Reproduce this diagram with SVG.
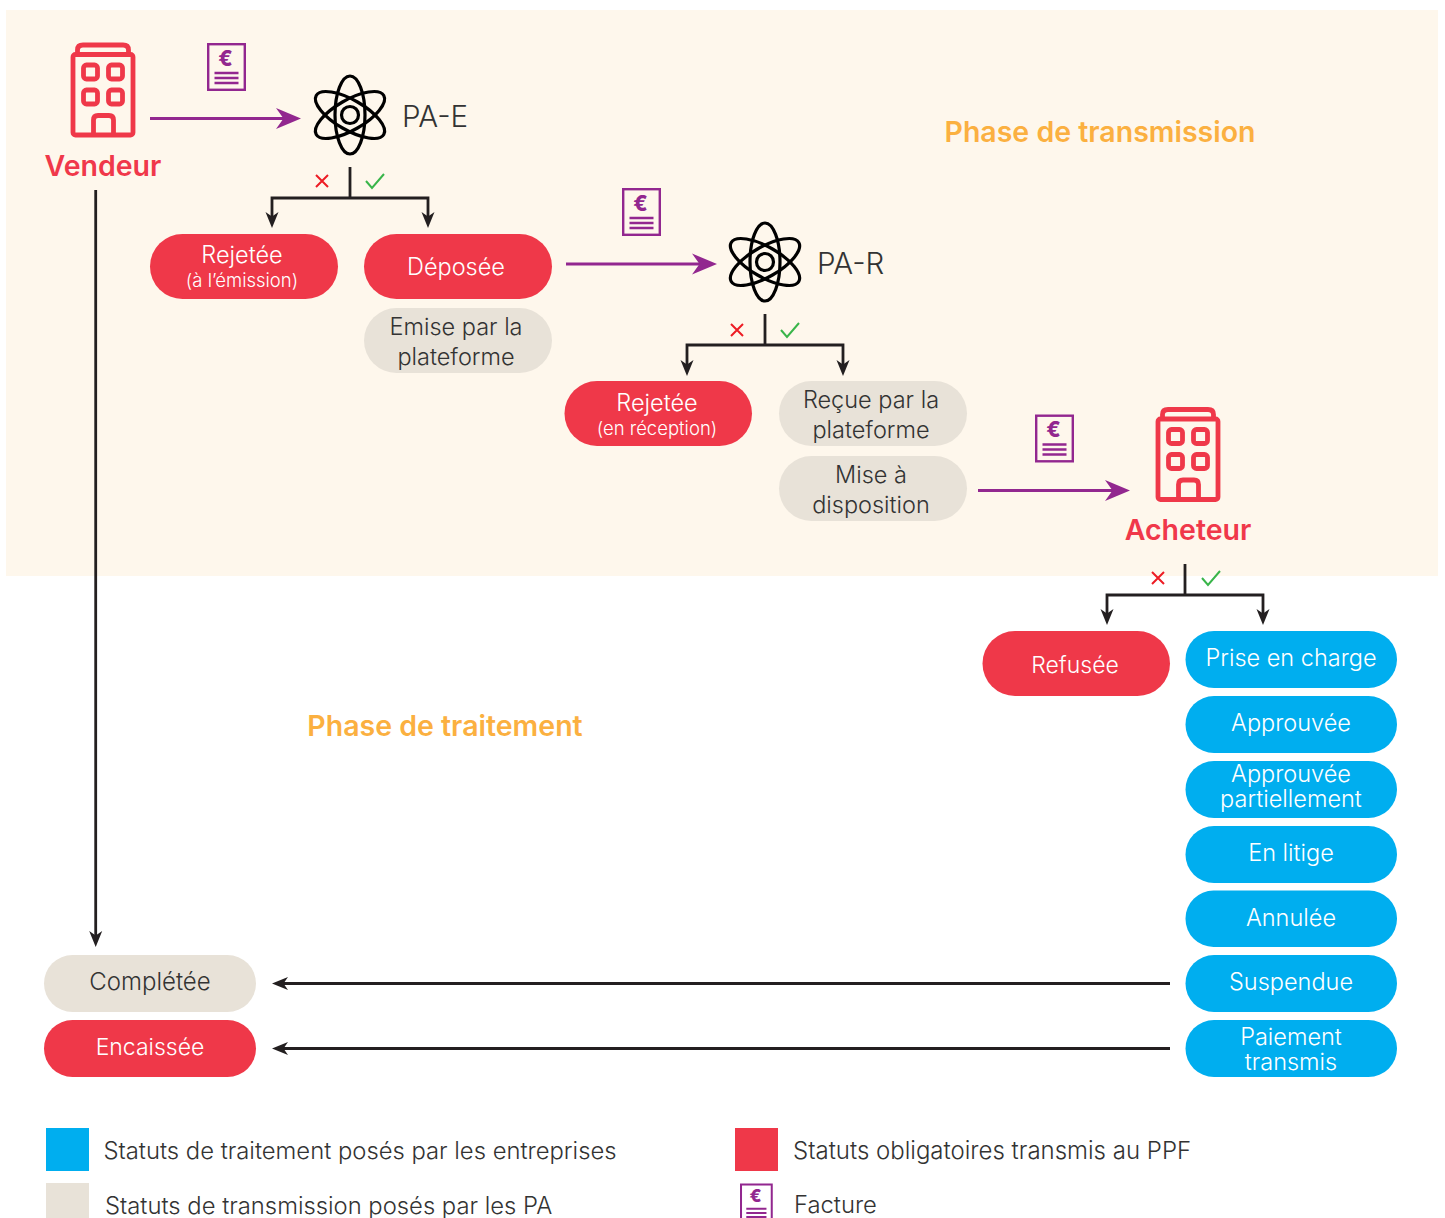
<svg xmlns="http://www.w3.org/2000/svg" width="1445" height="1218" viewBox="0 0 1445 1218">
<style>
text{font-family:Inter,"Liberation Sans",sans-serif;font-weight:300;text-anchor:middle;font-size:23.5px;fill:#333}
.w{fill:#fff}
.s{font-size:18.5px;fill:#fff}
.h{font-size:28.500px;font-weight:600;fill:#fbb040}
.n{font-size:28.500px;font-weight:600;fill:#f0384a}
.l{text-anchor:start;font-size:23.8px}
.p{text-anchor:start;font-size:29.500px}
.red{fill:#ef3849}.blue{fill:#00aeef}.beige{fill:#e8e2d8}
.pur{stroke:#92278f;stroke-width:3;fill:none}
.blk{stroke:#231f20;stroke-width:2.800;fill:none}
.x{stroke:#ed1c24;stroke-width:2;fill:none}
.c{stroke:#39b54a;stroke-width:2;fill:none}
</style>
<defs>
<marker id="ap" markerUnits="userSpaceOnUse" markerWidth="26" markerHeight="22" refX="8" refY="11" orient="auto"><path d="M0,0.500 L25,11 L0,21.500 L7.500,11Z" fill="#92278f"/></marker>
<marker id="ab" markerUnits="userSpaceOnUse" markerWidth="18" markerHeight="16" refX="5" refY="7" orient="auto"><path d="M0,0.500 L16,7 L0,13.500 L4.500,7Z" fill="#231f20"/></marker>
<g id="bld" fill="none" stroke="#ef3849" stroke-width="4.800">
<rect x="73" y="54.500" width="60" height="80.500" rx="2.500"/>
<path d="M77.500,54 V50 Q77.500,45 83,45 H123 Q128.500,45 128.500,50 V54"/>
<rect x="83.500" y="65" width="14" height="14" rx="3"/>
<rect x="108.500" y="65" width="14" height="14" rx="3"/>
<rect x="83.500" y="90" width="14" height="14" rx="3"/>
<rect x="108.500" y="90" width="14" height="14" rx="3"/>
<path d="M93.500,135 V120 Q93.500,115.500 98,115.500 H109 Q113.500,115.500 113.500,120 V135"/>
</g>
<g id="atom" fill="none" stroke="#000" stroke-width="3.200">
<circle r="8.500"/>
<ellipse rx="39" ry="15" transform="rotate(90)"/>
<ellipse rx="39" ry="15" transform="rotate(30)"/>
<ellipse rx="39" ry="15" transform="rotate(-30)"/>
</g>
<g id="inv">
<rect x="1.200" y="1.200" width="36.600" height="45.600" fill="none" stroke="#92278f" stroke-width="2.400"/>
<text x="18.500" y="22.500" style="font-size:21px;font-weight:800;fill:#92278f">€</text>
<path d="M7.500,30 H31.500 M7.500,35 H31.500 M7.500,40 H31.500" stroke="#92278f" stroke-width="2.400" fill="none"/>
</g>
</defs>
<rect id="bg" x="6" y="10" width="1432" height="566" fill="#fef7ec"/>
<text class="h" x="1100" y="142">Phase de transmission</text>
<text class="h" x="445" y="736">Phase de traitement</text>
<g id="connectors">
<path class="pur" marker-end="url(#ap)" d="M150,118.500 H284"/>
<path class="pur" marker-end="url(#ap)" d="M566,264 H700"/>
<path class="pur" marker-end="url(#ap)" d="M978,490.500 H1113"/>
<path class="blk" d="M350,167 V198"/>
<path class="blk" marker-end="url(#ab)" d="M350,198 H272 V217"/>
<path class="blk" marker-end="url(#ab)" d="M350,198 H428 V217"/>
<path class="blk" d="M765,314 V345"/>
<path class="blk" marker-end="url(#ab)" d="M765,345 H687 V365"/>
<path class="blk" marker-end="url(#ab)" d="M765,345 H843 V365"/>
<path class="blk" d="M1185,564 V595"/>
<path class="blk" marker-end="url(#ab)" d="M1185,595 H1107 V614"/>
<path class="blk" marker-end="url(#ab)" d="M1185,595 H1263 V614"/>
<path class="blk" marker-end="url(#ab)" d="M95.700,190 V936"/>
<path class="blk" marker-end="url(#ab)" d="M1170,983.500 H283"/>
<path class="blk" marker-end="url(#ab)" d="M1170,1048.500 H283"/>
<path class="x" d="M316,175 L328,187 M328,175 L316,187"/>
<path class="c" d="M366,181 L372,188 L384,174"/>
<path class="x" d="M731,324 L743,336 M743,324 L731,336"/>
<path class="c" d="M781,330 L787,337 L799,323"/>
<path class="x" d="M1152,572 L1164,584 M1164,572 L1152,584"/>
<path class="c" d="M1202,578 L1208,585 L1220,571"/>
</g>
<g id="vendeur"><use href="#bld"/><text class="n" x="103" y="176">Vendeur</text></g>
<g id="acheteur"><use href="#bld" x="1085" y="364.500"/><text class="n" x="1188" y="540">Acheteur</text></g>
<g id="pa-e"><use href="#atom" x="350" y="115"/><text class="p" x="402" y="127">PA-E</text></g>
<g id="pa-r"><use href="#atom" x="765" y="262"/><text class="p" x="817" y="274">PA-R</text></g>
<g id="invoice-1"><use href="#inv" x="207" y="43"/></g>
<g id="invoice-2"><use href="#inv" x="622" y="188"/></g>
<g id="invoice-3"><use href="#inv" x="1035" y="414.500"/></g>
<g id="rejetee-emission"><rect class="red" x="150" y="234" width="188" height="65" rx="32.500"/><text class="w" x="242" y="263">Rejetée</text><text class="s" x="242" y="287">(à l’émission)</text></g>
<g id="deposee"><rect class="red" x="364" y="234" width="188" height="65" rx="32.500"/><text class="w" x="456" y="275">Déposée</text></g>
<g id="emise"><rect class="beige" x="364" y="308" width="188" height="65" rx="32.500"/><text x="456" y="335">Emise par la</text><text x="456" y="365">plateforme</text></g>
<g id="rejetee-reception"><rect class="red" x="564.500" y="381" width="187.500" height="65" rx="32.500"/><text class="w" x="657" y="411">Rejetée</text><text class="s" x="657" y="435">(en réception)</text></g>
<g id="recue"><rect class="beige" x="779" y="381" width="188" height="65" rx="32.500"/><text x="871" y="408">Reçue par la</text><text x="871" y="438">plateforme</text></g>
<g id="mise"><rect class="beige" x="779" y="456" width="188" height="65" rx="32.500"/><text x="871" y="483">Mise à</text><text x="871" y="513">disposition</text></g>
<g id="refusee"><rect class="red" x="982.500" y="631" width="187.500" height="65" rx="32.500"/><text class="w" x="1075" y="673" style="font-size:23px">Refusée</text></g>
<g id="prise"><rect class="blue" x="1185.500" y="631" width="211.500" height="57" rx="28.500"/><text class="w" x="1291" y="666">Prise en charge</text></g>
<g id="approuvee"><rect class="blue" x="1185.500" y="696" width="211.500" height="57" rx="28.500"/><text class="w" x="1291" y="731">Approuvée</text></g>
<g id="partielle"><rect class="blue" x="1185.500" y="761" width="211.500" height="57" rx="28.500"/><text class="w" x="1291" y="782">Approuvée</text><text class="w" x="1291" y="807">partiellement</text></g>
<g id="litige"><rect class="blue" x="1185.500" y="826" width="211.500" height="57" rx="28.500"/><text class="w" x="1291" y="861">En litige</text></g>
<g id="annulee"><rect class="blue" x="1185.500" y="890.500" width="211.500" height="56.500" rx="28"/><text class="w" x="1291" y="926">Annulée</text></g>
<g id="suspendue"><rect class="blue" x="1185.500" y="955" width="211.500" height="57" rx="28.500"/><text class="w" x="1291" y="990">Suspendue</text></g>
<g id="paiement"><rect class="blue" x="1185.500" y="1020" width="211.500" height="57" rx="28.500"/><text class="w" x="1291" y="1045">Paiement</text><text class="w" x="1291" y="1070">transmis</text></g>
<g id="completee"><rect class="beige" x="44" y="955" width="212" height="57" rx="28.500"/><text x="150" y="990" style="font-size:24px">Complétée</text></g>
<g id="encaissee"><rect class="red" x="44" y="1020" width="212" height="57" rx="28.500"/><text class="w" x="150" y="1055" style="font-size:23px">Encaissée</text></g>
<g id="legend">
<rect class="blue" x="46" y="1128" width="43" height="43"/><text class="l" x="103.500" y="1159">Statuts de traitement posés par les entreprises</text>
<rect class="beige" x="46" y="1183" width="43" height="35"/><text class="l" x="105" y="1214">Statuts de transmission posés par les PA</text>
<rect class="red" x="735" y="1128" width="43" height="43"/><text class="l" x="793" y="1159" style="font-size:24px">Statuts obligatoires transmis au PPF</text>
<use href="#inv" transform="translate(740,1183.500) scale(.84)"/><text class="l" x="794" y="1213">Facture</text>
</g>
</svg>
